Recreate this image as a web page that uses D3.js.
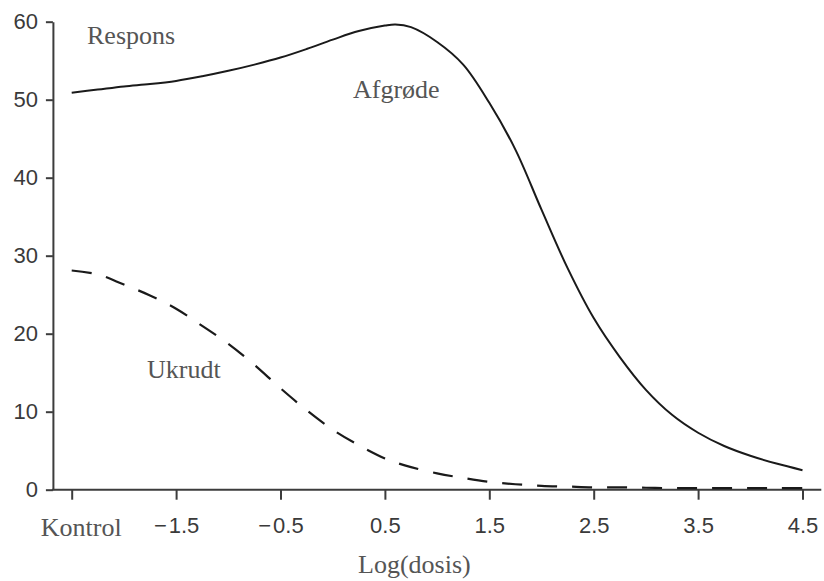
<!DOCTYPE html>
<html>
<head>
<meta charset="utf-8">
<script src="https://cdn.jsdelivr.net/npm/d3@7"></script>
<style>
  html, body { margin: 0; padding: 0; background: #fff; }
  svg { display: block; }
</style>
</head>
<body>
<svg id="chart" width="824" height="581"></svg>
<script>
// Log(dose) positions; -2.5 is the untreated control
const logDose = [-2.5, -2.25, -2.0, -1.75, -1.5, -1.25, -1.0, -0.75, -0.5, -0.25,
                 0.0, 0.25, 0.5, 0.6, 0.75, 1.0, 1.25, 1.5, 1.75, 2.0, 2.25, 2.5,
                 2.75, 3.0, 3.25, 3.5, 3.75, 4.0, 4.25, 4.5];

// Crop response (solid curve)
const cropResponse = [50.9, 51.3, 51.7, 52.0, 52.4, 53.0, 53.7, 54.5, 55.4, 56.5,
                      57.7, 58.8, 59.5, 59.65, 59.3, 57.4, 54.5, 49.6, 43.6, 35.9, 28.4, 22.0,
                      17.0, 12.8, 9.6, 7.3, 5.6, 4.35, 3.35, 2.5];

// Weed response (dashed curve)
const weedResponse = [28.1, 27.6, 26.3, 24.9, 23.2, 21.0, 18.7, 16.0, 13.0, 10.2,
                      7.7, 5.7, 4.0, 3.5, 2.9, 2.1, 1.5, 1.0, 0.7, 0.5, 0.4, 0.3,
                      0.3, 0.25, 0.2, 0.2, 0.2, 0.2, 0.2, 0.2];

const xTickValues = [-2.5, -1.5, -0.5, 0.5, 1.5, 2.5, 3.5, 4.5];
const xTickLabels = ["Kontrol", "\u2212\u200A1.5", "\u2212\u200A0.5", "0.5", "1.5", "2.5", "3.5", "4.5"];
const yTickValues = [0, 10, 20, 30, 40, 50, 60];

const svg = d3.select("#chart");

const x = d3.scaleLinear().domain([-2.5, 4.5]).range([71.7, 802.5]);
const y = d3.scaleLinear().domain([0, 60]).range([489.7, 21.7]);

const axisColor = "#3c3c3c";
const sansFont = "'Liberation Sans', Arial, sans-serif";
const serifFont = "'Liberation Serif', 'Times New Roman', serif";

// Y axis
const yAxisX = x(-2.68);
const yAxis = svg.append("g")
  .attr("transform", `translate(${yAxisX},0)`)
  .call(d3.axisLeft(y).tickValues(yTickValues).tickSize(7).tickPadding(8).tickSizeOuter(0));
yAxis.select(".domain").attr("stroke", axisColor).attr("stroke-width", 2);
yAxis.selectAll(".tick line").attr("stroke", axisColor).attr("stroke-width", 2);
yAxis.selectAll(".tick text")
  .attr("fill", "#3a3a3a")
  .style("font-family", sansFont)
  .style("font-size", "22px");

// X axis
const xAxis = svg.append("g")
  .attr("transform", `translate(0,${y(0)})`)
  .call(d3.axisBottom(x).tickValues(xTickValues)
    .tickFormat((d, i) => xTickLabels[i])
    .tickSize(10).tickPadding(18).tickSizeOuter(0));
xAxis.select(".domain").remove();
xAxis.append("line")
  .attr("x1", yAxisX - 1).attr("x2", x(4.68))
  .attr("y1", 0).attr("y2", 0)
  .attr("stroke", axisColor).attr("stroke-width", 2);
xAxis.selectAll(".tick line").attr("stroke", axisColor).attr("stroke-width", 2);
xAxis.selectAll(".tick text")
  .attr("fill", "#3a3a3a")
  .style("font-family", sansFont)
  .style("font-size", "22px");
xAxis.selectAll(".tick text")
  .filter((d, i) => i === 0)
  .attr("dx", 9)
  .attr("fill", "#555")
  .style("font-family", serifFont)
  .style("font-size", "26px");

// Curves
const line = d3.line()
  .x(d => x(d[0]))
  .y(d => y(d[1]))
  .curve(d3.curveCatmullRom.alpha(0.5));

svg.append("path")
  .datum(logDose.map((d, i) => [d, cropResponse[i]]))
  .attr("d", line)
  .attr("fill", "none")
  .attr("stroke", "#1a1a1a")
  .attr("stroke-width", 2);

svg.append("path")
  .datum(logDose.map((d, i) => [d, weedResponse[i]]))
  .attr("d", line)
  .attr("fill", "none")
  .attr("stroke", "#1a1a1a")
  .attr("stroke-width", 2.2)
  .attr("stroke-dasharray", "20,15");

// Annotations
const notes = [
  { text: "Respons", x: 87, y: 44 },
  { text: "Afgrøde", x: 353, y: 98 },
  { text: "Ukrudt", x: 147, y: 378 },
  { text: "Log(dosis)", x: 358, y: 573 }
];
svg.selectAll("text.note")
  .data(notes)
  .join("text")
  .attr("class", "note")
  .attr("x", d => d.x)
  .attr("y", d => d.y)
  .attr("fill", "#555")
  .style("font-family", serifFont)
  .style("font-size", "26px")
  .text(d => d.text);
</script>
</body>
</html>
